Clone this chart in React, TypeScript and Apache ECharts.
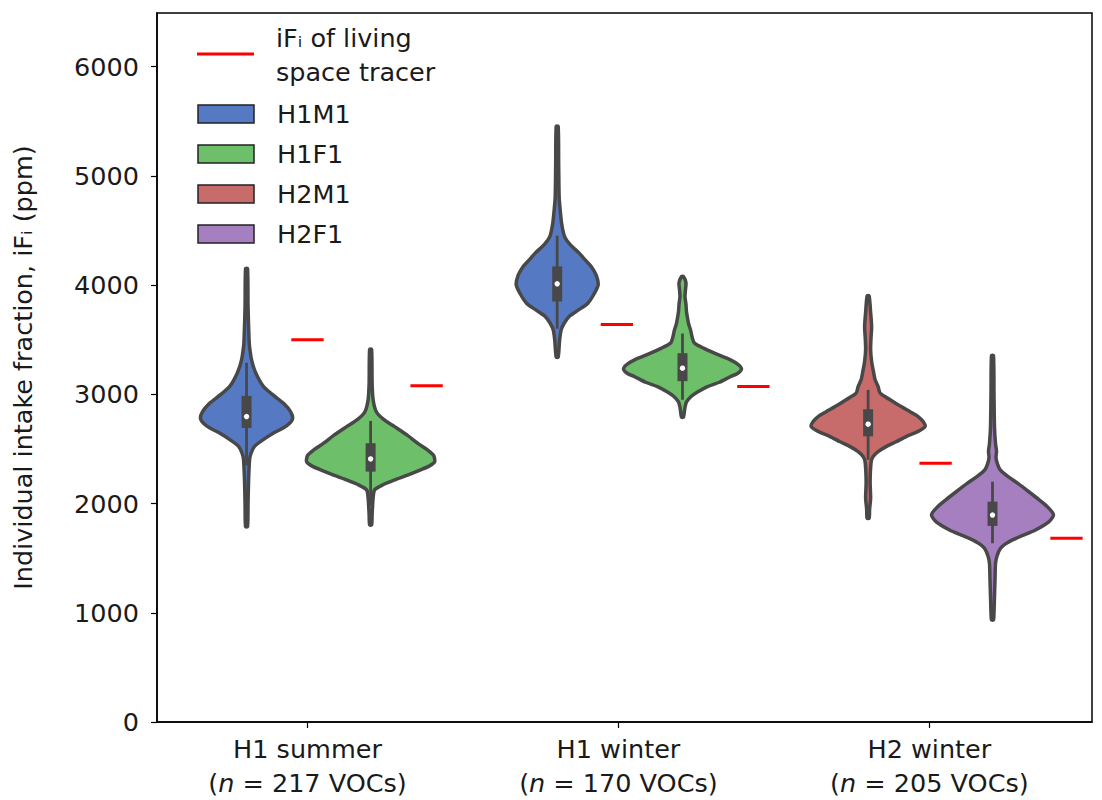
import React, { useEffect, useRef } from 'react';
import * as echarts from 'echarts';

// ---------- data ----------
const categories = ['H1 summer', 'H1 winter', 'H2 winter'];
const vocCounts = [217, 170, 205];
const categoryPositions = [0, 1, 2];
const yTicks = [0, 1000, 2000, 3000, 4000, 5000, 6000];

const hueNames = ['H1M1', 'H1F1', 'H2M1', 'H2F1'];
const hueColors = ['#5679c4', '#6ebf69', '#c86b6b', '#a67fc0'];
const tracerName = 'iFᵢ of living space tracer';

// violins: hue index and x position (category units)
const violinHue = [0, 1, 0, 1, 2, 3];
const violinX = [-0.196, 0.203, 0.803, 1.206, 1.803, 2.203];

// density profiles: [iF value (ppm), half width (density, px units)]
const profileH1M1Summer = [
  [4150, 1], [3800, 1.5], [3500, 2.5], [3435, 3], [3315, 5], [3200, 9], [3070, 17], [2990, 27],
  [2917, 37], [2840, 44], [2775, 46], [2710, 40], [2645, 27], [2580, 16], [2523, 8], [2460, 4.5],
  [2400, 3], [2200, 2], [2000, 1.5], [1788, 1],
];
const profileH1F1Summer = [
  [3411, 1], [3100, 1.5], [2950, 2.5], [2840, 5.7], [2770, 13], [2704, 24], [2630, 36], [2552, 47],
  [2490, 57], [2440, 63], [2383, 64], [2340, 58], [2308, 50], [2260, 37], [2216, 24], [2170, 12],
  [2125, 4], [2050, 2.5], [1900, 1.5], [1804, 1],
];
const profileH1M1Winter = [
  [5452, 1], [5100, 1.5], [4800, 2], [4689, 3], [4560, 4.5], [4445, 7.3], [4370, 13], [4292, 22],
  [4230, 28], [4170, 34], [4090, 39], [4002, 41], [3920, 37], [3834, 30.7], [3770, 21], [3712, 12],
  [3650, 7], [3590, 4], [3500, 2.5], [3340, 1],
];
const profileH1F1Winter = [
  [4078, 1], [4020, 3.5], [3960, 3], [3895, 2.5], [3820, 3.5], [3755, 4], [3650, 6], [3590, 8],
  [3510, 10], [3468, 12], [3422, 21], [3376, 32], [3315, 48], [3270, 56], [3230, 59], [3190, 55],
  [3162, 48], [3110, 37], [3070, 25], [3020, 15], [2979, 8.6], [2930, 4], [2880, 2.5], [2790, 1],
];
const profileH2M1Winter = [
  [3901, 1], [3750, 2.5], [3620, 3.5], [3500, 2.8], [3407, 2.5], [3300, 3.5], [3223, 5], [3132, 7],
  [3070, 10], [3010, 12], [2950, 22], [2887, 33], [2840, 42], [2796, 50], [2750, 55], [2705, 57],
  [2660, 50], [2613, 38], [2565, 28], [2521, 18], [2475, 10], [2430, 5], [2380, 3], [2200, 2],
  [2050, 2.5], [1950, 1.5], [1865, 1],
];
const profileH2F1Winter = [
  [3354, 1], [3000, 1.5], [2700, 2], [2550, 3], [2480, 4], [2420, 3.5], [2360, 5], [2308, 7.7],
  [2250, 15], [2186, 25], [2110, 36], [2033, 46.7], [1960, 56], [1895, 61], [1830, 56], [1758, 43],
  [1710, 31], [1667, 20], [1630, 13], [1590, 8], [1520, 4.5], [1450, 3], [1300, 2.5], [1150, 2],
  [1000, 1.5], [934, 1],
];
const violinProfiles = [
  profileH1M1Summer, profileH1F1Summer, profileH1M1Winter,
  profileH1F1Winter, profileH2M1Winter, profileH2F1Winter,
];
// box stats: [whisker low, q1, median, q3, whisker high]
const boxStats = [
  [2350, 2692, 2796, 2985, 3288],
  [1980, 2292, 2408, 2552, 2756],
  [3600, 3849, 4011, 4170, 4451],
  [2950, 3120, 3239, 3376, 3556],
  [2400, 2615, 2726, 2863, 3040],
  [1636, 1795, 1894, 2017, 2200],
];

// living space tracer iF
const tracerX = [0.0, 0.383, 0.995, 1.434, 2.02, 2.441];
const tracerValues = [3498, 3077, 3638, 3070, 2368, 1682];

// ---------- styling constants ----------
const FONT = 'DejaVu Sans';
const FS = 25.5;
const TEXT_COLOR = '#1a1a1a';
const EDGE = '#484848';
const DENSITY_TO_X = 1 / 311;
const TRACER_HALF = 0.052;

export default function App() {
  const ref = useRef<HTMLDivElement>(null);

  useEffect(() => {
    if (!ref.current) return;
    const chart = echarts.init(ref.current, undefined, { renderer: 'svg' });

    const violinSeries = hueNames.map((name, h) => ({
      name,
      type: 'custom',
      clip: false,
      data: violinX
        .map((x, i) => ({ x, i }))
        .filter(({ i }) => violinHue[i] === h)
        .map(({ x, i }) => [x, boxStats[i][2], i]),
      encode: { x: 0, y: 1 },
      renderItem: (params: any, api: any) => {
        const i = api.value(2);
        const x = violinX[i];
        const prof = violinProfiles[i];
        const right = prof.map(([v, w]) => api.coord([x + w * DENSITY_TO_X, v]));
        const left = prof
          .slice()
          .reverse()
          .map(([v, w]) => api.coord([x - w * DENSITY_TO_X, v]));
        const pts = right.concat(left);
        const [lo, q1, med, q3, hi] = boxStats[i];
        const pLo = api.coord([x, lo]);
        const pHi = api.coord([x, hi]);
        const pQ1 = api.coord([x, q1]);
        const pQ3 = api.coord([x, q3]);
        const pMed = api.coord([x, med]);
        return {
          type: 'group',
          children: [
            {
              type: 'polygon',
              shape: { points: pts, smooth: 0.25 },
              style: { fill: hueColors[h], stroke: EDGE, lineWidth: 3.5, lineJoin: 'round' },
            },
            {
              type: 'line',
              shape: { x1: pLo[0], y1: pLo[1], x2: pHi[0], y2: pHi[1] },
              style: { stroke: EDGE, lineWidth: 2.8 },
            },
            {
              type: 'rect',
              shape: { x: pQ3[0] - 5, y: pQ3[1], width: 10, height: pQ1[1] - pQ3[1] },
              style: { fill: EDGE },
            },
            {
              type: 'circle',
              shape: { cx: pMed[0], cy: pMed[1], r: 2.7 },
              style: { fill: '#ffffff' },
            },
          ],
        };
      },
    }));

    const tracerSeries = {
      name: tracerName,
      type: 'custom',
      clip: false,
      data: tracerX.map((x, i) => [x, tracerValues[i]]),
      encode: { x: 0, y: 1 },
      renderItem: (params: any, api: any) => {
        const x = api.value(0);
        const v = api.value(1);
        const p1 = api.coord([x - TRACER_HALF, v]);
        const p2 = api.coord([x + TRACER_HALF, v]);
        return {
          type: 'line',
          shape: { x1: p1[0], y1: p1[1], x2: p2[0], y2: p2[1] },
          style: { stroke: '#ff0000', lineWidth: 3 },
        };
      },
    };

    const legendTop = 114;
    const legendStep = 40;
    const legendGraphics: any[] = [
      {
        type: 'line',
        shape: { x1: 197, y1: 54, x2: 254, y2: 54 },
        style: { stroke: '#ff0000', lineWidth: 3 },
      },
      {
        type: 'text',
        x: 276,
        y: 38,
        style: {
          text: 'iFᵢ of living',
          font: `${FS}px "${FONT}"`,
          fill: TEXT_COLOR,
          verticalAlign: 'middle',
        },
      },
      {
        type: 'text',
        x: 276,
        y: 72,
        style: {
          text: 'space tracer',
          font: `${FS}px "${FONT}"`,
          fill: TEXT_COLOR,
          verticalAlign: 'middle',
        },
      },
    ];
    hueNames.forEach((name, h) => {
      const cy = legendTop + h * legendStep;
      legendGraphics.push({
        type: 'rect',
        shape: { x: 198, y: cy - 9, width: 56, height: 18 },
        style: { fill: hueColors[h], stroke: '#222222', lineWidth: 1.5 },
      });
      legendGraphics.push({
        type: 'text',
        x: 277,
        y: cy,
        style: {
          text: name,
          font: `${FS}px "${FONT}"`,
          fill: TEXT_COLOR,
          verticalAlign: 'middle',
        },
      });
    });

    chart.setOption({
      animation: false,
      backgroundColor: '#ffffff',
      textStyle: { fontFamily: FONT },
      grid: {
        left: 157,
        right: 10,
        top: 13,
        bottom: 78,
        show: true,
        borderColor: '#000000',
        borderWidth: 1.5,
        backgroundColor: 'transparent',
      },
      xAxis: {
        type: 'value',
        min: -0.484,
        max: 2.523,
        splitLine: { show: false },
        axisLine: { show: true, onZero: false, lineStyle: { color: '#000000', width: 1.5 } },
        axisTick: {
          show: true,
          customValues: categoryPositions,
          length: 6,
          lineStyle: { color: '#000000', width: 1.2 },
        },
        axisLabel: {
          customValues: categoryPositions,
          margin: 10,
          formatter: (val: number) => {
            const i = Math.round(val);
            return `{a|${categories[i]}}\n{a|(}{i|n}{a| = ${vocCounts[i]} VOCs)}`;
          },
          rich: {
            a: { fontSize: FS, fontFamily: FONT, color: TEXT_COLOR, lineHeight: 34 },
            i: { fontSize: FS, fontFamily: FONT, color: TEXT_COLOR, fontStyle: 'italic', lineHeight: 34 },
          },
        },
      },
      yAxis: {
        type: 'value',
        min: 0,
        max: 6490,
        name: 'Individual intake fraction, iFᵢ (ppm)',
        nameLocation: 'middle',
        nameGap: 121,
        nameTextStyle: { fontSize: FS, fontFamily: FONT, color: TEXT_COLOR },
        splitLine: { show: false },
        axisLine: { show: true, onZero: false, lineStyle: { color: '#000000', width: 1.5 } },
        axisTick: {
          show: true,
          customValues: yTicks,
          length: 6,
          lineStyle: { color: '#000000', width: 1.2 },
        },
        axisLabel: {
          customValues: yTicks,
          margin: 18,
          fontSize: FS,
          fontFamily: FONT,
          color: TEXT_COLOR,
          formatter: (val: number) => String(val),
        },
      },
      graphic: legendGraphics,
      series: [...violinSeries, tracerSeries],
    } as any);

    return () => chart.dispose();
  }, []);

  return (
    <div
      ref={ref}
      style={{ position: 'fixed', left: 0, top: 0, width: 1102, height: 800, background: '#fff' }}
    />
  );
}
